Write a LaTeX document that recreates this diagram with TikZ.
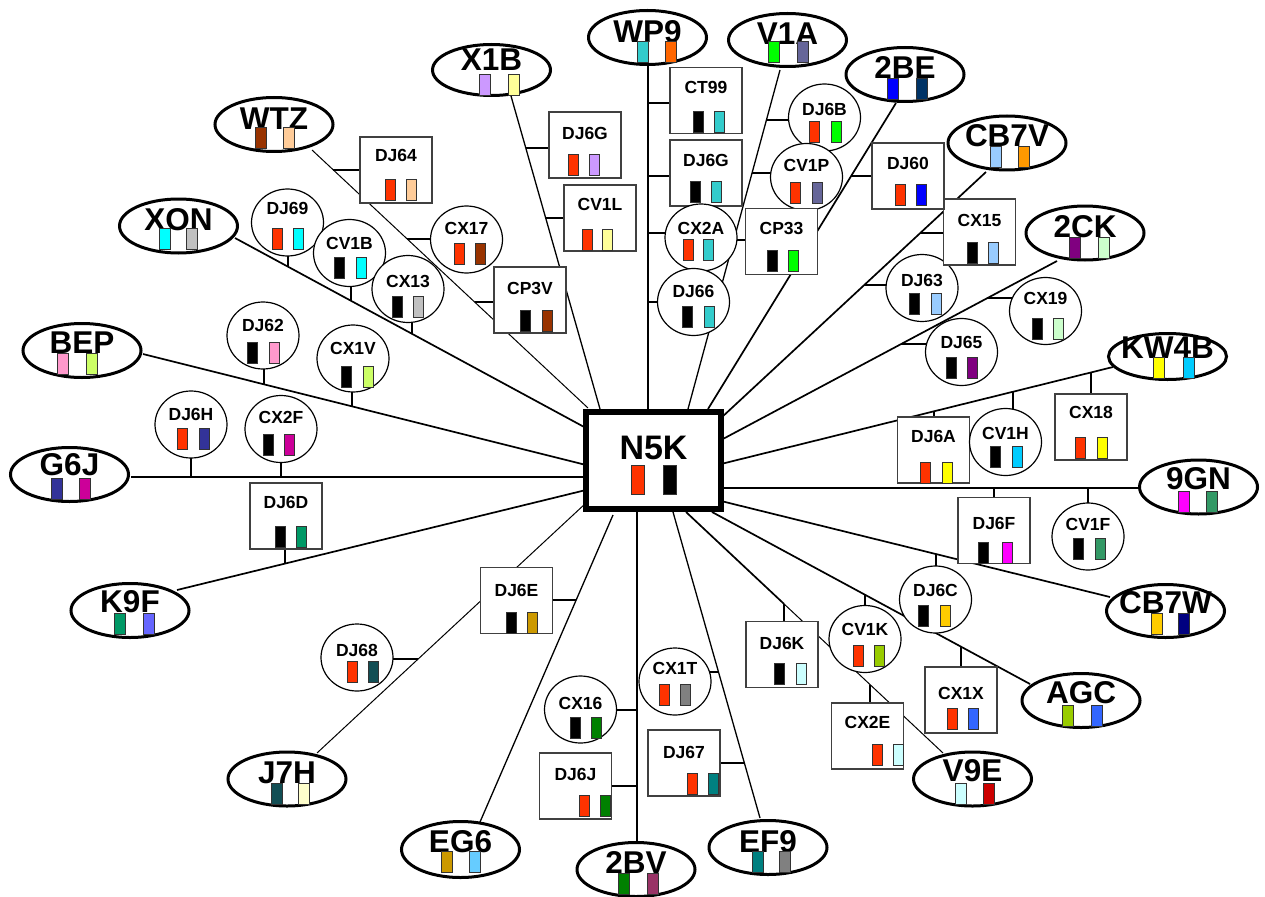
\documentclass[tikz,border=0pt]{standalone}
\usepackage{fontspec}
\setmainfont{Liberation Sans}
\usetikzlibrary{shapes.geometric}
\pgfdeclarelayer{background}
\pgfsetlayers{background,main}
\definecolor{cRed}{HTML}{FF3300}
\definecolor{cPeach}{HTML}{FFCC99}
\definecolor{cCyan}{HTML}{00FFFF}
\definecolor{cSilver}{HTML}{C0C0C0}
\definecolor{cBrown}{HTML}{993300}
\definecolor{cPink}{HTML}{FF99CC}
\definecolor{cLime}{HTML}{CCFF66}
\definecolor{cIndigo}{HTML}{333399}
\definecolor{cMagenta}{HTML}{CC0099}
\definecolor{cJade}{HTML}{009966}
\definecolor{cDkTeal}{HTML}{124E54}
\definecolor{cGold}{HTML}{CC9900}
\definecolor{cGreen}{HTML}{008000}
\definecolor{cGray}{HTML}{808080}
\definecolor{cTeal}{HTML}{008080}
\definecolor{cLtCyan}{HTML}{CCFFFF}
\definecolor{cOlive}{HTML}{99CC00}
\definecolor{cAmber}{HTML}{FFCC00}
\definecolor{cFuchsia}{HTML}{FF00FF}
\definecolor{cSea}{HTML}{339966}
\definecolor{cYellow}{HTML}{FFFF00}
\definecolor{cSky}{HTML}{00CCFF}
\definecolor{cPurple}{HTML}{800080}
\definecolor{cMint}{HTML}{CCFFCC}
\definecolor{cLtBlue}{HTML}{99CCFF}
\definecolor{cBlue}{HTML}{0000FF}
\definecolor{cBright}{HTML}{00FF00}
\definecolor{cSlate}{HTML}{666699}
\definecolor{cTurq}{HTML}{33CCCC}
\definecolor{cLav}{HTML}{CC99FF}
\definecolor{cLtYel}{HTML}{FFFF99}
\definecolor{cOrange}{HTML}{FF6600}
\definecolor{cDkBlue}{HTML}{003366}
\definecolor{cOrangeB}{HTML}{FF9900}
\definecolor{cNavy}{HTML}{000080}
\definecolor{cRoyal}{HTML}{3366FF}
\definecolor{cDkRed}{HTML}{CC0000}
\definecolor{cPlum}{HTML}{993366}
\definecolor{cAzure}{HTML}{66CCFF}
\definecolor{cPeri}{HTML}{6666FF}
\definecolor{cCream}{HTML}{FFFFCC}
\tikzset{
  big/.style={ellipse, draw, line width=3pt, fill=white, minimum width=118pt, minimum height=54pt, inner sep=0pt, font=\fontsize{31.5}{32}\selectfont\bfseries},
  circ/.style={ellipse, draw, line width=1.2pt, fill=white, minimum width=72pt, minimum height=67pt, inner sep=0pt, font=\fontsize{17.5}{18}\selectfont\bfseries},
  boxn/.style={rectangle, draw=black!75, line width=1.8pt, fill=white, minimum width=72pt, minimum height=66pt, inner sep=0pt, font=\fontsize{17.5}{18}\selectfont\bfseries},
  hub/.style={rectangle, draw, line width=6pt, fill=white, minimum width=135pt, minimum height=97pt, inner sep=0pt, font=\fontsize{34}{36}\selectfont\bfseries},
  axis/.style={line width=2.6pt},
  med/.style={line width=1.7pt},
  fine/.style={line width=1pt},
  mid/.style={line width=1.3pt},
  stub/.style={line width=2.4pt},
  barc/.style={draw=black!80, line width=0.8pt}
}
\newcommand\mknode[6]{%
  \pgfmathsetmacro\tdp{max(2*(#4-(#5))-\capht,0)}%
  \pgfmathsetmacro\tht{max(\capht-2*(#4-(#5)),0)}%
  \node[#1,text height=\tht pt,text depth=\tdp pt] (#2) at (#3,#4) {\makebox[0pt]{#6}};}
\newcommand\sbars[5]{%
  \draw[barc,fill=#4] (#1,#3) rectangle ++(10,21);
  \draw[barc,fill=#5] (#2,#3) rectangle ++(10,21);}
\newcommand\bbars[5]{%
  \draw[barc,fill=#4] (#1,#3) rectangle ++(11,21);
  \draw[barc,fill=#5] (#2,#3) rectangle ++(11,21);}
\newcommand\hstub[2]{\draw[stub] (#1) -- (#1 -| #2.center);}
\newcommand\vstub[2]{\draw[stub] (#1) -- (#1 |- #2.center);}
\begin{document}
\begin{tikzpicture}[x=1pt,y=-1pt]
\useasboundingbox (0,0) rectangle (1265,896);
% ---------- hub
\node[hub, text height=0pt, text depth=2.7pt] (N5K) at (653.5,460.5) {\makebox[0pt]{N5K}};
\draw[barc,fill=cRed] (631,465) rectangle ++(13,29);
\draw[barc,fill=black] (663,465) rectangle ++(13,29);
% ---------- outer nodes
\def\capht{22.6}
\mknode{big}{nWTZ}{274}{124.5}{118}{WTZ}
\mknode{big}{nXON}{178.5}{226}{219}{XON}
\mknode{big,minimum height=51pt}{nX1B}{491.5}{70}{59}{X1B}
\mknode{big}{nWP9}{647.5}{37.5}{31}{WP9}
\mknode{big,minimum height=53pt}{nV1A}{787.5}{40}{33}{V1A}
\mknode{big}{n2BE}{905}{74.5}{67}{2BE}
\mknode{big}{nCB7V}{1007}{143}{135}{CB7V}
\mknode{big}{n2CK}{1085}{233}{226}{2CK}
\mknode{big,minimum height=46pt}{nKW4B}{1167.5}{356.5}{347.5}{KW4B}
\mknode{big}{n9GN}{1198.5}{487}{478}{9GN}
\mknode{big,minimum height=53pt}{nCB7W}{1165.5}{611}{602}{CB7W}
\mknode{big}{nAGC}{1081}{700.5}{692}{AGC}
\mknode{big}{nV9E}{972.5}{779}{770}{V9E}
\mknode{big}{nEF9}{768}{847.5}{841}{EF9}
\mknode{big}{n2BV}{636}{869.5}{862}{2BV}
\mknode{big,minimum height=56pt}{nEG6}{460.5}{849.5}{841}{EG6}
\mknode{big}{nJ7H}{287}{779}{772}{J7H}
\mknode{big}{nK9F}{130}{610.5}{601}{K9F}
\mknode{big}{nG6J}{69.5}{474.5}{464.5}{G6J}
\mknode{big}{nBEP}{82}{350.5}{342.5}{BEP}
\bbars{255}{283}{127}{cBrown}{cPeach}
\bbars{159}{186}{228}{cCyan}{cSilver}
\bbars{479}{508}{74}{cLav}{cLtYel}
\bbars{637}{665}{41}{cTurq}{cOrange}
\bbars{768}{797}{41}{cBright}{cSlate}
\bbars{887}{916}{78}{cBlue}{cDkBlue}
\bbars{990}{1018}{146}{cLtBlue}{cOrangeB}
\bbars{1069}{1098}{237}{cPurple}{cMint}
\bbars{1153}{1183}{357}{cYellow}{cSky}
\bbars{1178}{1206}{491}{cFuchsia}{cSea}
\bbars{1151}{1178}{613}{cAmber}{cNavy}
\bbars{1062}{1091}{705}{cOlive}{cRoyal}
\bbars{955}{983}{783}{cLtCyan}{cDkRed}
\bbars{752}{779}{851}{cTeal}{cGray}
\bbars{618}{647}{873}{cGreen}{cPlum}
\bbars{441}{469}{851}{cGold}{cAzure}
\bbars{271}{298}{783}{cDkTeal}{cCream}
\bbars{114}{143}{613}{cJade}{cPeri}
\bbars{51}{79}{478}{cIndigo}{cMagenta}
\bbars{57}{86}{353}{cPink}{cLime}
% ---------- small nodes
\def\capht{12.5}
\mknode{boxn}{DJ64}{396}{170}{155}{DJ64}       \sbars{385}{406}{179}{cRed}{cPeach}
\mknode{circ}{DJ69}{287.5}{222.5}{208}{DJ69}   \sbars{272}{293}{228}{cRed}{cCyan}
\mknode{circ}{CV1B}{349.5}{253}{243}{CV1B}     \sbars{334}{356}{257}{black}{cCyan}
\mknode{circ}{CX13}{408}{289}{281}{CX13}       \sbars{392}{413}{296}{black}{cSilver}
\mknode{circ}{CX17}{466.5}{239.5}{228}{CX17}   \sbars{454}{475}{243}{cRed}{cBrown}
\mknode{boxn}{CP3V}{530}{300}{288}{CP3V}       \sbars{520}{542}{310}{black}{cBrown}
\mknode{circ}{DJ62}{263}{335.5}{325}{DJ62}     \sbars{247}{269}{342}{black}{cPink}
\mknode{circ}{CX1V}{353}{358.5}{348}{CX1V}     \sbars{341}{363}{366}{black}{cLime}
\mknode{circ}{DJ6H}{191}{424.5}{414}{DJ6H}     \sbars{177}{199}{428}{cRed}{cIndigo}
\mknode{circ}{CX2F}{281}{429}{417}{CX2F}       \sbars{263}{284}{434}{black}{cMagenta}
\mknode{boxn}{DJ6D}{286}{516}{502}{DJ6D}       \sbars{275}{296}{526}{black}{cJade}
\mknode{circ}{DJ68}{357}{657.5}{650}{DJ68}     \sbars{347}{368}{661}{cRed}{cDkTeal}
\mknode{boxn}{DJ6E}{516.5}{600.5}{590}{DJ6E}   \sbars{506}{527}{612}{black}{cGold}
\mknode{circ}{CX16}{580.5}{709.5}{703}{CX16}   \sbars{570}{591}{717}{black}{cGreen}
\mknode{boxn}{DJ6J}{575.5}{786}{774}{DJ6J}     \sbars{579}{600}{795}{cRed}{cGreen}
\mknode{circ}{CX1T}{675}{681.5}{668}{CX1T}     \sbars{659}{680}{684}{cRed}{cGray}
\mknode{boxn}{DJ67}{684}{763}{752}{DJ67}       \sbars{687}{708}{773}{cRed}{cTeal}
\mknode{boxn}{DJ6K}{782}{654.5}{643}{DJ6K}     \sbars{774}{796}{663}{black}{cLtCyan}
\mknode{circ}{CV1K}{865}{639}{629}{CV1K}       \sbars{853}{874}{645}{cRed}{cOlive}
\mknode{boxn}{CX2E}{867.5}{736}{722}{CX2E}     \sbars{872}{893}{744}{cRed}{cLtCyan}
\mknode{boxn}{CX1X}{961}{700}{693}{CX1X}       \sbars{947}{968}{708}{cRed}{cRoyal}
\mknode{circ}{DJ6C}{935.5}{599.5}{590}{DJ6C}   \sbars{918}{940}{605}{black}{cAmber}
\mknode{boxn}{DJ6F}{994}{530.5}{523}{DJ6F}     \sbars{978}{1002}{542}{black}{cFuchsia}
\mknode{circ}{CV1F}{1088}{536.5}{524}{CV1F}    \sbars{1073}{1095}{538}{black}{cSea}
\mknode{boxn}{DJ6A}{933.5}{450}{436}{DJ6A}     \sbars{920}{942}{462}{cRed}{cYellow}
\mknode{circ}{CV1H}{1005.5}{442}{433}{CV1H}    \sbars{990}{1012}{446}{black}{cSky}
\mknode{boxn}{CX18}{1091}{427}{412}{CX18}      \sbars{1075}{1097}{437}{cRed}{cYellow}
\mknode{circ}{DJ65}{961.5}{352}{342}{DJ65}     \sbars{946}{967}{357}{black}{cPurple}
\mknode{circ}{CX19}{1045.5}{311}{298}{CX19}    \sbars{1032}{1053}{318}{black}{cMint}
\mknode{circ}{DJ63}{922}{288}{280}{DJ63}       \sbars{909}{931}{293}{black}{cLtBlue}
\mknode{boxn}{CX15}{979.5}{232}{220}{CX15}     \sbars{967}{988}{242}{black}{cLtBlue}
\mknode{boxn}{DJ60}{908}{176}{163}{DJ60}       \sbars{895}{916}{184}{cRed}{cBlue}
\mknode{circ}{DJ6B}{824.5}{117.5}{109}{DJ6B}   \sbars{809}{831}{121}{cRed}{cBright}
\mknode{circ}{CV1P}{806.5}{177}{165}{CV1P}     \sbars{790}{812}{182}{cRed}{cSlate}
\mknode{boxn}{CT99}{706}{100.5}{87}{CT99}      \sbars{693}{714}{111}{black}{cTurq}
\mknode{boxn}{DJ6Gb}{706}{173}{160}{DJ6G}      \sbars{690}{711}{181}{black}{cTurq}
\mknode{circ}{CX2A}{701}{237.5}{228}{CX2A}     \sbars{683}{703}{239}{cRed}{cTurq}
\mknode{circ}{DJ66}{693.5}{302}{291}{DJ66}     \sbars{682}{704}{306}{black}{cTurq}
\mknode{boxn}{CP33}{781.5}{241.5}{228}{CP33}   \sbars{767}{788}{250}{black}{cBright}
\mknode{boxn}{DJ6Ga}{585}{145}{133}{DJ6G}      \sbars{568}{589}{154}{cRed}{cLav}
\mknode{boxn}{CV1L}{600}{218}{204}{CV1L}       \sbars{582}{602}{229}{cRed}{cLtYel}
% ---------- connectors (behind the nodes)
\begin{pgfonlayer}{background}
% spoke end points
\coordinate (aWTZ) at (312,150);   \coordinate (bWTZ) at (588,408);
\coordinate (aXON) at (235,238);   \coordinate (bXON) at (586,428);
\coordinate (aBEP) at (143,354);   \coordinate (bBEP) at (586,465);
\coordinate (aG6J) at (131,477);   \coordinate (bG6J) at (586,477);
\coordinate (aK9F) at (177,590);   \coordinate (bK9F) at (586,490);
\coordinate (aJ7H) at (317,753);   \coordinate (bJ7H) at (586,503);
\coordinate (aEG6) at (480,822);   \coordinate (bEG6) at (613,515);
\coordinate (a2BV) at (637,841);   \coordinate (b2BV) at (637,512);
\coordinate (aEF9) at (760,818);   \coordinate (bEF9) at (673,512);
\coordinate (aV9E) at (943,753);   \coordinate (bV9E) at (686,512);
\coordinate (aAGC) at (1030,684);  \coordinate (bAGC) at (712,512);
\coordinate (aCB7W) at (1110,597); \coordinate (bCB7W) at (721,501);
\coordinate (a9GN) at (1138,488);  \coordinate (b9GN) at (721,488);
\coordinate (aKW4B) at (1113,367); \coordinate (bKW4B) at (721,464);
\coordinate (a2CK) at (1057,261);  \coordinate (b2CK) at (721,440);
\coordinate (aCB7V) at (986,172);  \coordinate (bCB7V) at (721,418);
\coordinate (a2BE) at (896,103);   \coordinate (b2BE) at (708,409);
\coordinate (aV1A) at (780,70);    \coordinate (bV1A) at (688,409);
\coordinate (aWP9) at (648,66);    \coordinate (bWP9) at (648,409);
\coordinate (aX1B) at (511,96);    \coordinate (bX1B) at (600,409);
% stub points on the spokes
\coordinate (sDJ64) at (333.4,170);  \coordinate (sCX17) at (407.2,239);  \coordinate (sCP3V) at (474.6,302);
\coordinate (sDJ69) at (288,266.7);  \coordinate (sCV1B) at (351,300.8);  \coordinate (sCX13) at (412,333.8);
\coordinate (sDJ62) at (264,384.3);  \coordinate (sCX1V) at (352,406.4);
\coordinate (sDJ6H) at (191,477);    \coordinate (sCX2F) at (281,477);
\coordinate (sDJ6D) at (285,563.6);
\coordinate (sDJ68) at (418,659);
\coordinate (sDJ6E) at (576.2,600);
\coordinate (sCX16) at (637,710);    \coordinate (sDJ6J) at (637,786);
\coordinate (sCX1T) at (718.5,672);  \coordinate (sDJ67) at (744.4,763);
\coordinate (sDJ6K) at (784,603.9);  \coordinate (sCX2E) at (870,684.5);
\coordinate (sCV1K) at (865,594.8);  \coordinate (sCX1X) at (961,646.7);
\coordinate (sDJ6C) at (936,554.1);
\coordinate (sDJ6F) at (994,488);    \coordinate (sCV1F) at (1088,488);
\coordinate (sDJ6A) at (934,411.3);  \coordinate (sCV1H) at (1013,391.8); \coordinate (sCX18) at (1091,372.5);
\coordinate (sDJ65) at (901.2,344);  \coordinate (sCX19) at (987.6,298);
\coordinate (sCX15) at (920.3,233);  \coordinate (sDJ63) at (864.3,285);
\coordinate (sDJ60) at (851.1,176);
\coordinate (sDJ6B) at (766.4,120);  \coordinate (sCV1P) at (752,173);    \coordinate (sCP33) at (733.9,240);
\coordinate (sCT99) at (648,103);    \coordinate (sDJ6Gb) at (648,176);   \coordinate (sCX2A) at (648,233); \coordinate (sDJ66) at (648,302);
\coordinate (sDJ6Ga) at (525.8,148); \coordinate (sCV1L) at (545.7,218);
% spokes
\draw[fine] (aWTZ) -- (bWTZ);
\draw[med]  (aXON) -- (bXON);
\draw[med]  (aBEP) -- (bBEP);
\draw[axis] (aG6J) -- (bG6J);
\draw[med]  (aK9F) -- (bK9F);
\draw[fine] (aJ7H) -- (bJ7H);
\draw[mid]  (aEG6) -- (bEG6);
\draw[axis] (a2BV) -- (b2BV);
\draw[mid]  (aEF9) -- (bEF9);
\draw[med]  (bV9E) -- (sDJ6K);
\draw[fine] (sDJ6K) -- (aV9E);
\draw[med]  (aAGC) -- (bAGC);
\draw[med]  (aCB7W) -- (bCB7W);
\draw[axis] (a9GN) -- (b9GN);
\draw[med]  (aKW4B) -- (bKW4B);
\draw[med]  (a2CK) -- (b2CK);
\draw[med]  (aCB7V) -- (bCB7V);
\draw[med]  (a2BE) -- (b2BE);
\draw[mid]  (aV1A) -- (bV1A);
\draw[axis] (aWP9) -- (bWP9);
\draw[mid]  (aX1B) -- (bX1B);
% stubs
\hstub{sDJ64}{DJ64} \hstub{sCX17}{CX17} \hstub{sCP3V}{CP3V}
\vstub{sDJ69}{DJ69} \vstub{sCV1B}{CV1B} \vstub{sCX13}{CX13}
\vstub{sDJ62}{DJ62} \vstub{sCX1V}{CX1V}
\vstub{sDJ6H}{DJ6H} \vstub{sCX2F}{CX2F}
\vstub{sDJ6D}{DJ6D}
\hstub{sDJ68}{DJ68}
\hstub{sDJ6E}{DJ6E}
\hstub{sCX16}{CX16} \hstub{sDJ6J}{DJ6J}
\hstub{sCX1T}{CX1T} \hstub{sDJ67}{DJ67}
\vstub{sDJ6K}{DJ6K} \vstub{sCX2E}{CX2E}
\vstub{sCV1K}{CV1K} \vstub{sCX1X}{CX1X}
\vstub{sDJ6C}{DJ6C}
\vstub{sDJ6F}{DJ6F} \vstub{sCV1F}{CV1F}
\vstub{sDJ6A}{DJ6A} \vstub{sCV1H}{CV1H} \vstub{sCX18}{CX18}
\hstub{sDJ65}{DJ65} \hstub{sCX19}{CX19}
\hstub{sCX15}{CX15} \hstub{sDJ63}{DJ63}
\hstub{sDJ60}{DJ60}
\hstub{sDJ6B}{DJ6B} \hstub{sCV1P}{CV1P} \hstub{sCP33}{CP33}
\hstub{sCT99}{CT99} \hstub{sDJ6Gb}{DJ6Gb} \hstub{sCX2A}{CX2A} \hstub{sDJ66}{DJ66}
\hstub{sDJ6Ga}{DJ6Ga} \hstub{sCV1L}{CV1L}
\end{pgfonlayer}
\end{tikzpicture}
\end{document}
